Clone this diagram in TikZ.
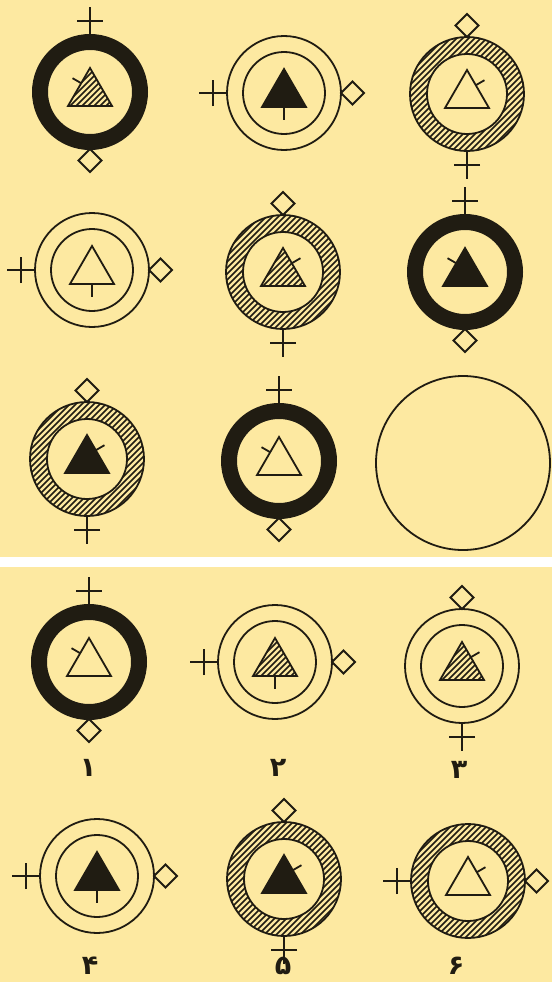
\documentclass[tikz,border=0pt]{standalone}
\usepackage{fontspec}
\usepackage{tikz}
\usetikzlibrary{calc}
\newfontfamily\arabicfont[Script=Arabic]{DejaVu Sans}
\definecolor{paper}{HTML}{FDE9A1}
\definecolor{ink}{HTML}{201C12}
\tikzset{
  line/.style={ink,line width=1.8pt},
  hatching/.style={ink,line width=1.5pt},
  ring black/.pic={\fill[ink,even odd rule] (0,0) circle (58) circle (42);},
  ring double/.pic={\draw[line] (0,0) circle (57) (0,0) circle (41);},
  ring hatch/.pic={
    \begin{scope}[even odd rule]
      \clip (0,0) circle (57) circle (40);
      \foreach \d in {-120,-114,...,120} {\draw[hatching] (\d-60,-60) -- (\d+60,60);}
    \end{scope}
    \draw[line] (0,0) circle (57) (0,0) circle (40);},
  tri empty/.pic={\draw[line,line join=miter] (0,24) -- (22,-14) -- (-22,-14) -- cycle;},
  tri black/.pic={\filldraw[line,line join=miter] (0,24) -- (22,-14) -- (-22,-14) -- cycle;},
  tri hatch/.pic={
    \begin{scope}
      \clip (0,24) -- (22,-14) -- (-22,-14) -- cycle;
      \foreach \d in {-60,-54,...,60} {\draw[hatching] (\d-40,-40) -- (\d+40,40);}
    \end{scope}
    \draw[line,line join=miter] (0,24) -- (22,-14) -- (-22,-14) -- cycle;},
  mark stem/.pic={\draw[line] (0,-14) -- (0,-27);},
  mark left/.pic={\draw[line] (-8.8,8.8) -- ++(150:10);},
  mark right/.pic={\draw[line] (8.8,8.8) -- ++(30:10);},
  % plus on one side of the ring, diamond on the other
  pins/.pic={\draw[line] (0,57) -- (0,85) (-13,71) -- (13,71);
    \draw[line,fill=paper] (0,-57) -- (11.5,-68.5) -- (0,-80) -- (-11.5,-68.5) -- cycle;},
  digit/.style={font=\arabicfont\bfseries\fontsize{27}{30}\selectfont,text=ink,inner sep=0pt}
}
\begin{document}
\begin{tikzpicture}[x=1pt,y=1pt]
\useasboundingbox (0,0) rectangle (552,-982);
\fill[paper] (0,0) rectangle (552,-982);
\fill[white] (0,-557) rectangle (552,-567);
% the matrix
\foreach \cx/\cy/\rg/\tr/\mk/\pa in {90/92/black/hatch/left/0,284/93/double/black/stem/90,467/94/hatch/empty/right/180,
  92/270/double/empty/stem/90,283/272/hatch/hatch/right/180,465/272/black/black/left/0,
  87/459/hatch/black/right/180,279/461/black/empty/left/0} {
 \begin{scope}[shift={(\cx,-\cy)}]
  \pic {ring \rg}; \pic {tri \tr}; \pic {mark \mk}; \pic[rotate=\pa] {pins};
 \end{scope}}
\draw[ink,line width=1.8pt] (463,-463) circle (87);
% the answers
\foreach \cx/\cy/\rg/\tr/\mk/\pa in {89/662/black/empty/left/0,275/662/double/hatch/stem/90,462/666/double/hatch/right/180,
  97/876/double/black/stem/90,284/879/hatch/black/right/180,468/881/hatch/empty/right/90} {
 \begin{scope}[shift={(\cx,-\cy)}]
  \pic {ring \rg}; \pic {tri \tr}; \pic {mark \mk}; \pic[rotate=\pa] {pins};
 \end{scope}}
\foreach \i/\lx/\ly/\lt in {1/88/768/۱,2/278/768/۲,3/459/770/۳,4/90/966/۴,5/283/966/۵,6/456/966/۶}
  \node[digit] (opt\i) at (\lx,-\ly) {\lt};
\end{tikzpicture}
\end{document}
